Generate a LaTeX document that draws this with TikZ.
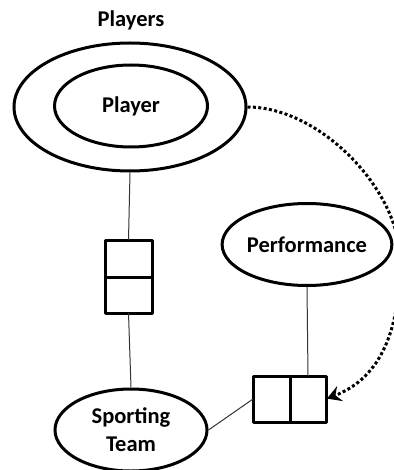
\documentclass[tikz,border=0pt]{standalone}
\usepackage{fontspec}
\setmainfont{Carlito}
\usetikzlibrary{shapes.geometric,arrows.meta}
\begin{document}
\begin{tikzpicture}[x=1pt,y=-1pt,
  every node/.style={font=\fontsize{22.5}{28}\selectfont\bfseries},
  oval/.style={draw,ellipse,line width=3pt,inner sep=0pt,align=center},
  cell/.style={draw,rectangle,line width=3pt,inner sep=0pt,outer sep=0pt,line join=round},
  link/.style={line width=1pt,black!80},
  flow/.style={line width=3pt,dash pattern=on 3pt off 2.4pt,
    -{Stealth[length=14pt,width=16pt,inset=5pt]}}]
\useasboundingbox (0,0) rectangle (393,470);

% entity set with its nested entity
\node (playerslbl) at (131,20) {Players};
\node[oval,minimum width=232pt,minimum height=128pt] (outer) at (130,107) {};
\node[oval,minimum width=153pt,minimum height=82pt] (inner) at (131,106) {Player};

% other entities
\node[oval,minimum width=152pt,minimum height=82pt] (perf) at (307,244.5) {Performance};
\node[oval,minimum width=152pt,minimum height=82pt] (team) at (131,430) {Sporting\\Team};

% relationship boxes made of two cells each
\node[cell,minimum width=47pt,minimum height=37pt] (vboxT) at (128.5,258.5) {};
\node[cell,minimum width=47pt,minimum height=36pt] (vboxB) at (128.5,295) {};
\node[cell,minimum width=37pt,minimum height=46pt] (hboxL) at (271.5,399) {};
\node[cell,minimum width=36pt,minimum height=46pt] (hboxR) at (308,399) {};

% connectors
\draw[link] (outer.south) -- (vboxT.north);
\draw[link] (vboxB.south) -- (team.north);
\draw[link] (perf.south) -- (hboxR.north);
\draw[link] (team.east) -- (hboxL.west);

% dotted dependency arrow
\draw[flow,shorten >=1pt] (outer.east) .. controls (320,107) and (400,190) .. (400,260)
  .. controls (400,340) and (375,380) .. (hboxR.east);
\end{tikzpicture}
\end{document}
